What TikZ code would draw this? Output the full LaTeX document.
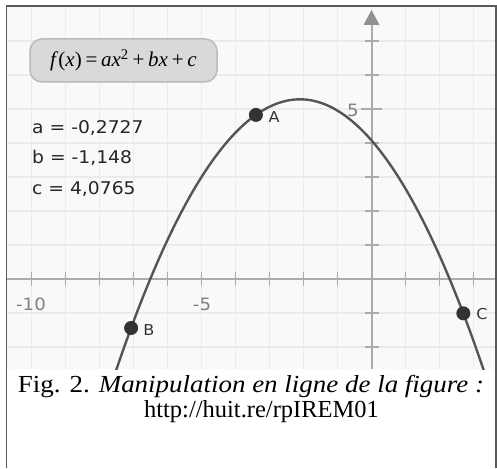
\documentclass[tikz,border=0pt]{standalone}
\usepackage{fontspec}
\setmainfont{Liberation Serif}
\newfontfamily\gsans[FakeStretch=1.07]{DejaVu Sans}
\newfontfamily\capwide[FakeStretch=1.1]{Liberation Serif}
\definecolor{gridbg}{HTML}{F9F9F9}
\definecolor{gridln}{HTML}{EBEBEB}
\definecolor{axiscol}{HTML}{ABABAB}
\definecolor{curvecol}{HTML}{555555}
\definecolor{dotcol}{HTML}{333333}
\definecolor{framecol}{HTML}{5A5A5A}
\definecolor{labelcol}{HTML}{808080}
\begin{document}
\begin{tikzpicture}[x=1pt,y=-1pt,
  gridline/.style={draw=gridln,line width=1.2pt},
  axisline/.style={draw=axiscol,line width=2pt},
  tickline/.style={draw=axiscol,line width=1.6pt},
  ptdot/.style={circle,fill=dotcol,inner sep=0pt,minimum size=14pt},
  ptlabel/.style={font=\gsans\fontsize{15}{15}\selectfont,text=dotcol,inner sep=0pt},
  axlabel/.style={font=\gsans\fontsize{17}{17}\selectfont,text=labelcol,inner sep=0pt},
  coeff/.style={font=\gsans\fontsize{17.5}{17.5}\selectfont,text=black!85,inner sep=0pt,anchor=base west},
  formbox/.style={rounded corners=12pt,fill=black!15,draw=black!27,line width=1.5pt,minimum width=187pt,minimum height=43pt,font=\fontsize{21}{21}\selectfont},
  caption/.style={font=\fontsize{24.5}{24.5}\selectfont,inner sep=0pt,anchor=base}]
\useasboundingbox (0,0) rectangle (497,468);
% graph background
\fill[gridbg] (7,7) rectangle (496,369);
\begin{scope}
\clip (7,7) rectangle (496,369);
\foreach \k in {-10,...,3} \draw[gridline] ({371.5+34*\k},7) -- ({371.5+34*\k},369);
\foreach \k in {-2,...,7} \draw[gridline] (7,{279-34*\k}) -- (496,{279-34*\k});
% axes
\coordinate (xl) at (7,279);
\coordinate (xr) at (496,279);
\coordinate (yb) at (371.5,369);
\coordinate (yt) at (371.5,24);
\draw[axisline] (xl) -- (xr);
\draw[axisline] (yb) -- (yt);
\fill[axiscol!85!black] (371.5,10) -- (379.5,25) -- (363.5,25) -- cycle;
\foreach \k in {-10,...,3} \draw[tickline] ({371.5+34*\k},272) -- ({371.5+34*\k},286);
\foreach \k in {-2,...,7} \draw[tickline] (364.5,{279-34*\k}) -- (378.5,{279-34*\k});
\draw[tickline] (361,109) -- (382,109);
% curve
\draw[curvecol,line width=2.4pt,samples=120,domain=-7.7:3.45]
  plot ({371.5+34*\x},{279-34*(-0.2727*\x*\x-1.148*\x+4.0765)});
\end{scope}
% axis labels
\node[axlabel] (lm10) at (31,304) {-10};
\node[axlabel] (lm5) at (202,304) {-5};
\node[axlabel] (l5) at (353,110) {5};
% points
\node[ptdot] (A) at (255.9,114.9) {};
\node[ptdot] (B) at (131.1,328) {};
\node[ptdot] (C) at (463.3,313.3) {};
\node[ptlabel] (Al) at (274,117.5) {A};
\node[ptlabel] (Bl) at (149,330) {B};
\node[ptlabel] (Cl) at (482,314) {C};
% formula
\node[formbox] (form) at (123.5,60.5) {\textit{f}(\textit{x})\hspace{0.18em}=\hspace{0.18em}\textit{ax}\textsuperscript{2}\hspace{0.18em}+\hspace{0.18em}\textit{bx}\hspace{0.18em}+\hspace{0.18em}\textit{c}};
% coefficients
\node[coeff] (ca) at (32,133) {a = -0,2727};
\node[coeff] (cb) at (32,163.5) {b = -1,148};
\node[coeff] (cc) at (32,194) {c = 4,0765};
% frame
\draw[framecol,line width=1.5pt] (6.5,468) -- (6.5,6.5) -- (496.2,6.5) -- (496.2,468);
\draw[framecol,line width=1pt] (6,5.5) -- (497,5.5);
% caption
\node[caption] (cap1) at (251,392) {\capwide Fig. 2. \textit{Manipulation en ligne de la figure :}};
\node[caption] (cap2) at (261.5,417) {http://huit.re/rpIREM01};
\end{tikzpicture}
\end{document}
